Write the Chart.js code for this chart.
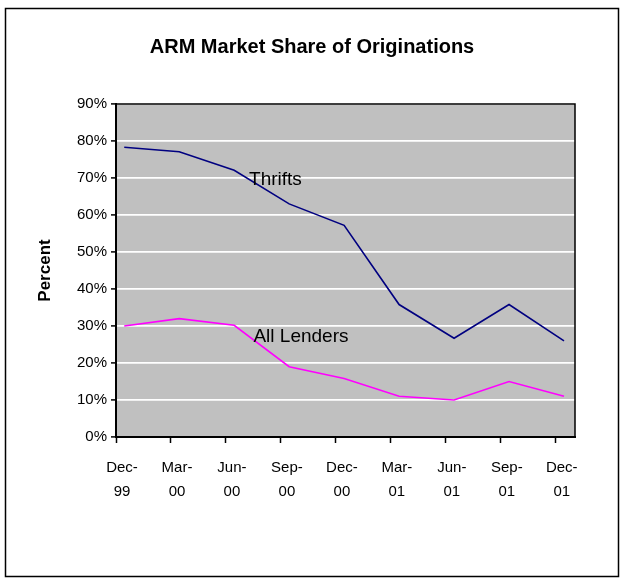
<!DOCTYPE html>
<html>
<head>
<meta charset="utf-8">
<title>ARM Market Share of Originations</title>
<script src="https://cdn.jsdelivr.net/npm/chart.js@4/dist/chart.umd.min.js"></script>
<style>
    html, body {
        margin: 0;
        padding: 0;
        background: #ffffff;
    }
    .chart-box {
        position: relative;
        width: 624px;
        height: 582px;
    }
</style>
</head>
<body>
<div class="chart-box">
    <canvas id="armChart"></canvas>
</div>
<script>
// Quarterly ARM share of originations (percent)
const categories = ['Dec-99', 'Mar-00', 'Jun-00', 'Sep-00', 'Dec-00', 'Mar-01', 'Jun-01', 'Sep-01', 'Dec-01'];
const thrifts = [78.3, 77.1, 72.1, 63.0, 57.2, 35.8, 26.7, 35.8, 26.0];
const allLenders = [30.0, 32.0, 30.2, 19.0, 15.8, 11.0, 10.0, 15.0, 11.0];
const yTicks = [0, 10, 20, 30, 40, 50, 60, 70, 80, 90];

// Series names written inside the plot, placed in data units
const seriesNotes = [
    { text: 'Thrifts', x: 2.27, y: 69.5 },
    { text: 'All Lenders', x: 2.35, y: 27.0 }
];

const TITLE = 'ARM Market Share of Originations';
const FONT = "'Liberation Sans', Arial, Helvetica, sans-serif";

const ArmChart = {
    chart: null,

    // x tick marks sit a little before each quarter's point
    xMin: -0.15,
    xMax: 8.2,

    init() {
        const ctx = document.getElementById('armChart').getContext('2d');
        this.chart = new Chart(ctx, {
            type: 'line',
            data: {
                datasets: [
                    this.series('Thrifts', thrifts, '#000080'),
                    this.series('All Lenders', allLenders, '#ff00ff')
                ]
            },
            options: this.options(),
            plugins: [this.framePlugin()]
        });
    },

    series(label, values, color) {
        return {
            label: label,
            data: values.map((v, i) => ({ x: i, y: v })),
            borderColor: color,
            backgroundColor: color,
            borderWidth: 1.6,
            pointRadius: 0,
            tension: 0,
            fill: false
        };
    },

    options() {
        const self = this;
        return {
            responsive: true,
            maintainAspectRatio: false,
            animation: false,
            layout: {
                padding: { left: 0, right: 49, top: 104, bottom: 0 }
            },
            scales: {
                x: {
                    type: 'linear',
                    min: self.xMin,
                    max: self.xMax,
                    afterBuildTicks(scale) {
                        scale.ticks = categories.map((c, i) => ({ value: i + self.xMin }));
                    },
                    afterFit(scale) {
                        scale.height = 145;
                    },
                    border: { display: true, color: '#000000', width: 2 },
                    grid: {
                        display: true,
                        drawOnChartArea: false,
                        drawTicks: true,
                        tickLength: 6,
                        tickColor: '#000000',
                        tickWidth: 1.5
                    },
                    ticks: {
                        autoSkip: false,
                        maxRotation: 0,
                        minRotation: 0,
                        padding: 13,
                        labelOffset: 6,
                        color: '#000000',
                        font: { family: FONT, size: 15, lineHeight: 1.6 },
                        callback(value, index) {
                            const parts = categories[index].split('-');
                            return [parts[0] + '-', parts[1]];
                        }
                    }
                },
                y: {
                    min: 0,
                    max: 90,
                    afterBuildTicks(scale) {
                        scale.ticks = yTicks.map(v => ({ value: v }));
                    },
                    afterFit(scale) {
                        scale.width = 116;
                    },
                    border: { display: true, color: '#000000', width: 2 },
                    grid: {
                        color: '#ffffff',
                        lineWidth: 1.8,
                        tickLength: 5,
                        tickColor: '#000000',
                        tickWidth: 1.5
                    },
                    ticks: {
                        padding: 4,
                        color: '#000000',
                        font: { family: FONT, size: 15 },
                        callback: v => v + '%'
                    },
                    title: {
                        display: true,
                        text: 'Percent',
                        color: '#000000',
                        font: { family: FONT, size: 17, weight: 'bold', lineHeight: 1.2 },
                        padding: { top: 35, bottom: 0 }
                    }
                }
            },
            plugins: {
                legend: { display: false },
                tooltip: { enabled: false },
                title: { display: false }
            }
        };
    },

    framePlugin() {
        return {
            id: 'armFrame',
            beforeDraw(chart) {
                const { ctx, chartArea: a } = chart;
                // Gray plot area
                ctx.save();
                ctx.fillStyle = '#c0c0c0';
                ctx.fillRect(a.left, a.top, a.right - a.left, a.bottom - a.top);
                ctx.restore();
            },
            afterDatasetsDraw(chart) {
                const { ctx, chartArea: a, scales, width } = chart;
                ctx.save();

                // Top and right edges of the plot area
                ctx.strokeStyle = '#000000';
                ctx.lineWidth = 1.5;
                ctx.beginPath();
                ctx.moveTo(a.left, a.top);
                ctx.lineTo(a.right, a.top);
                ctx.lineTo(a.right, a.bottom);
                ctx.stroke();

                // Chart title, centred on the whole frame
                ctx.fillStyle = '#000000';
                ctx.font = 'bold 20px ' + FONT;
                ctx.textAlign = 'center';
                ctx.textBaseline = 'middle';
                ctx.fillText(TITLE, width / 2, 47);

                // Series names
                ctx.font = '19px ' + FONT;
                ctx.textAlign = 'left';
                seriesNotes.forEach(n => {
                    ctx.fillText(n.text, scales.x.getPixelForValue(n.x), scales.y.getPixelForValue(n.y));
                });

                // Outer chart border
                ctx.lineWidth = 1.5;
                ctx.strokeRect(5.5, 8.5, 613, 568);
                ctx.restore();
            }
        };
    }
};

ArmChart.init();
</script>
</body>
</html>
